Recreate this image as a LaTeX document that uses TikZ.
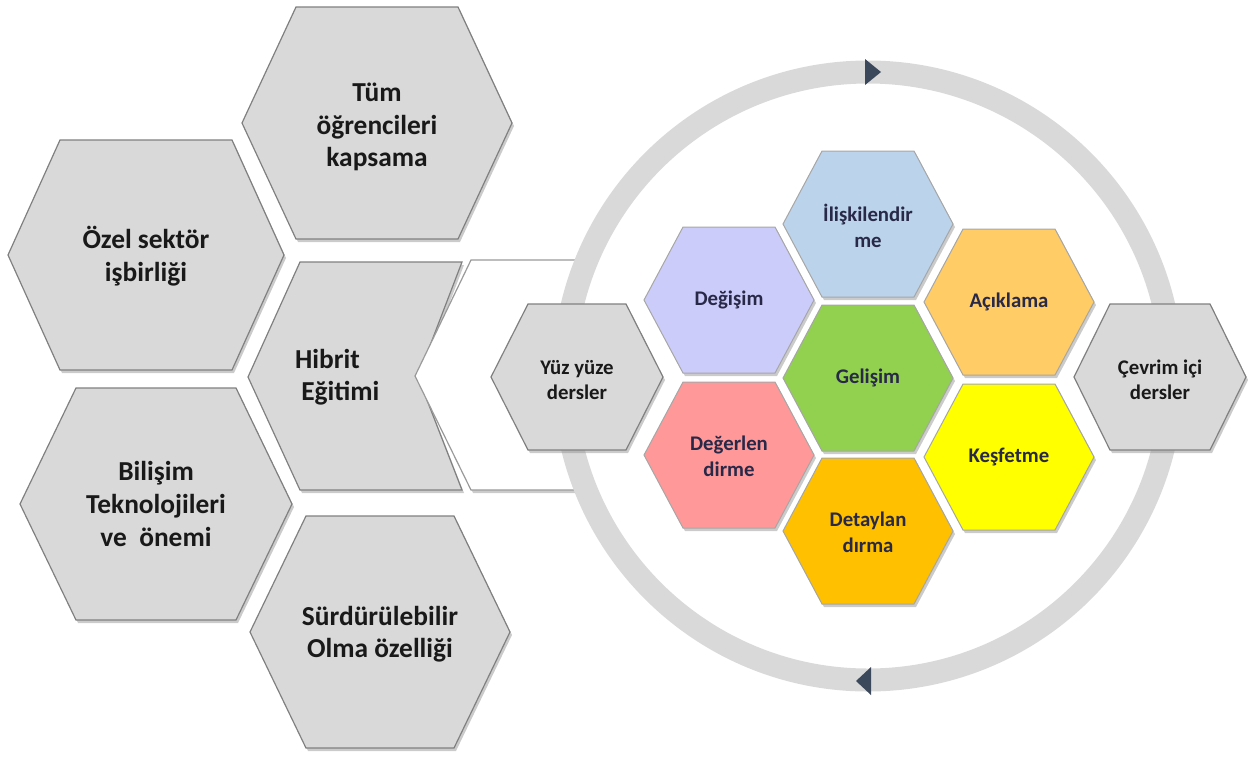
\documentclass[tikz,border=0pt]{standalone}
\usepackage{fontspec}
\setmainfont{Carlito}

\definecolor{hexgray}{RGB}{217,217,217}
\definecolor{hexedge}{RGB}{128,128,128}
\definecolor{ringgray}{RGB}{217,217,217}
\definecolor{arrowc}{RGB}{59,71,90}
\definecolor{navytxt}{RGB}{40,40,72}
\definecolor{cblue}{RGB}{187,211,235}
\definecolor{cpurple}{RGB}{204,204,250}
\definecolor{corange}{RGB}{255,204,102}
\definecolor{cgreen}{RGB}{146,208,80}
\definecolor{cpink}{RGB}{255,153,153}
\definecolor{cyellow}{RGB}{255,255,0}
\definecolor{camber}{RGB}{255,192,0}

% style, centre x, centre y, half width, half top edge, half height
\newcommand{\hexa}[6]{\draw[#1] (#2-#4,#3) -- (#2-#5,#3-#6) -- (#2+#5,#3-#6) -- (#2+#4,#3) -- (#2+#5,#3+#6) -- (#2-#5,#3+#6) -- cycle;}

\tikzset{
  hexshadow/.style={preaction={fill=black!45,opacity=0.45,transform canvas={xshift=1pt,yshift=-1.5pt}}},
  bighex/.style={hexshadow,fill=hexgray,draw=hexedge,line width=0.6pt},
  cellhex/.style={hexshadow,draw=black!35,line width=0.5pt},
  bigtxt/.style={font=\fontsize{13.7}{16.3}\selectfont\bfseries,align=center,text=black!90},
  smalltxt/.style={font=\fontsize{10.4}{12.6}\selectfont\bfseries,align=center,text=black!90},
  celltxt/.style={font=\fontsize{10.4}{13}\selectfont\bfseries,align=center,text=navytxt}
}

\begin{document}
\begin{tikzpicture}[x=0.5pt,y=-0.5pt]
\useasboundingbox (0,0) rectangle (1252,756);

% left hexagons
\hexa{bighex}{377}{123}{135}{81}{116}
\hexa{bighex}{146}{255}{138}{86}{115}
\draw[bighex] (248,377) -- (300,262) -- (462,262) -- (418,377) -- (462,490) -- (300,490) -- cycle;
\hexa{bighex}{156}{504}{136}{80}{116}
\hexa{bighex}{380}{632}{130}{74}{116}

\node[bigtxt] (tum) at (377,127) {Tüm\\öğrencileri\\kapsama};
\node[bigtxt] (ozel) at (146,256) {Özel sektör\\işbirliği};
\node[bigtxt,align=left,anchor=west] (hibrit) at (288,377) {Hibrit\\\ Eğitimi};
\node[bigtxt] (bilisim) at (156,504) {Bilişim\\Teknolojileri\\ve\ \ önemi};
\node[bigtxt] (surd) at (380,634) {Sürdürülebilir\\Olma özelliği};

% white chevron behind the ring
\fill[white,hexshadow] (580,260) -- (471,260) -- (415,376) -- (471,490) -- (580,490) -- cycle;
\draw[hexedge!80,line width=0.6pt] (580,260) -- (471,260) -- (415,376) -- (471,490) -- (580,490);

% ring
\draw[ringgray,line width=11.5pt] (868,376) circle[radius=304];
\fill[arrowc] (865,59) -- (881,72) -- (865,85) -- cycle;
\fill[arrowc] (871,667) -- (856,681) -- (871,695) -- cycle;

% side hexagons
\hexa{bighex}{577}{377}{86}{49}{73}
\hexa{bighex}{1160}{377}{86}{50}{73}
\node[smalltxt] (yuz) at (577,380) {Yüz yüze\\dersler};
\node[smalltxt] (cevrim) at (1160,380) {Çevrim içi\\dersler};

% honeycomb
\hexa{cellhex,fill=cblue}{868}{224}{85}{46}{73}
\hexa{cellhex,fill=cpurple}{729}{300}{85}{46}{73}
\hexa{cellhex,fill=corange}{1009}{302}{85}{46}{73}
\hexa{cellhex,fill=cgreen}{868}{378}{85}{46}{73}
\hexa{cellhex,fill=cpink}{729}{455}{85}{46}{73}
\hexa{cellhex,fill=cyellow}{1009}{457}{85}{46}{73}
\hexa{cellhex,fill=camber}{868}{531}{85}{46}{73}

\node[celltxt] (iliski) at (868,226) {İlişkilendir\\me};
\node[celltxt] (degisim) at (729,300) {Değişim};
\node[celltxt] (aciklama) at (1009,302) {Açıklama};
\node[celltxt] (gelisim) at (868,378) {Gelişim};
\node[celltxt] (degerlen) at (729,456) {Değerlen\\dirme};
\node[celltxt] (kesfet) at (1009,457) {Keşfetme};
\node[celltxt] (detay) at (868,532) {Detaylan\\dırma};
\end{tikzpicture}
\end{document}
